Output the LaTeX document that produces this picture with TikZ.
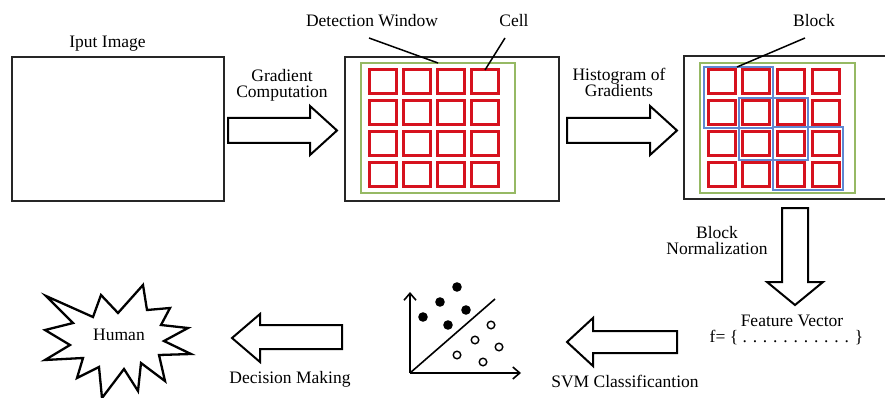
\documentclass[tikz,border=0pt]{standalone}
\usepackage{fontspec}
\setmainfont{Liberation Serif}
\usetikzlibrary{arrows.meta}
\definecolor{cellred}{RGB}{214,18,30}
\definecolor{wingreen}{RGB}{150,185,100}
\definecolor{blockblue}{RGB}{95,135,210}
\tikzset{
  lbl/.style={font=\fontsize{17.5}{16}\selectfont, inner sep=0pt, align=center},
  frame/.style={draw=black!85, line width=2pt},
  win/.style={draw=wingreen, line width=1.6pt},
  cellbox/.style={draw=cellred, line width=3pt},
  blk/.style={draw=blockblue, line width=2.5pt},
  barrow/.style={draw=black, line width=2pt, fill=white, line join=miter},
  leader/.style={draw=black, line width=1.5pt},
  axis/.style={draw=black, line width=1.6pt},
  fdot/.style={fill=black},
  odot/.style={draw=black, line width=1.4pt, fill=white},
}
\begin{document}
\begin{tikzpicture}[x=1pt,y=-1pt]
\useasboundingbox[fill=white] (0,0) rectangle (885,398);

% ---------- input image ----------
\node[frame, anchor=north west, inner sep=0pt, minimum width=212pt, minimum height=144pt] (input) at (11,56) {};
\node[lbl, anchor=base] (inputlbl) at (107.5,48) {Iput Image};

% ---------- arrow 1 ----------
\draw[barrow] (228,118) -- (310,118) -- (310,106) -- (337,130.5) -- (310,155) -- (310,143) -- (228,143) -- cycle;
\node[lbl] (gradlbl) at (282,85.5) {Gradient\\Computation};

% ---------- detection window box ----------
\node[frame, anchor=north west, inner sep=0pt, minimum width=214pt, minimum height=144pt] (detbox) at (344,56) {};
\draw[win] (361,63) rectangle (515,193);
\foreach \i in {0,1,2,3}{
  \foreach \j in {0,1,2,3}{
    \draw[cellbox] ({369+34.3*\i},{70+30.7*\j}) rectangle ++(27,24);
  }
}
\node[lbl, anchor=base] (detlbl) at (372,27) {Detection Window};
\node[lbl, anchor=base] (celllbl) at (514,27) {Cell};
\coordinate (detA) at (369,38);
\coordinate (detB) at (438,63);
\coordinate (cellA) at (505,38);
\coordinate (cellB) at (485,70);
\draw[leader] (detA) -- (detB);
\draw[leader] (cellA) -- (cellB);

% ---------- arrow 2 ----------
\draw[barrow] (567,118) -- (650,118) -- (650,106) -- (677,130.5) -- (650,155) -- (650,143) -- (567,143) -- cycle;
\node[lbl] (histlbl) at (619,82) {Histogram of\\Gradients};

% ---------- block box ----------
\draw[frame] (895,56) -- (684,56) -- (684,199) -- (895,199);
\draw[win] (700,63) rectangle (855,193);
\foreach \i in {0,1,2,3}{
  \foreach \j in {0,1,2,3}{
    \draw[cellbox] ({708+34.7*\i},{70+30.7*\j}) rectangle ++(27,24);
  }
}
\draw[blk] (704,67) rectangle (773,128);
\draw[blk] (739,98) rectangle (808,160);
\draw[blk] (773,127) rectangle (843,190);
\node[lbl, anchor=base] (blocklbl) at (814,27) {Block};
\coordinate (blkA) at (805,38);
\coordinate (blkB) at (737,67);
\draw[leader] (blkA) -- (blkB);

% ---------- down arrow ----------
\draw[barrow] (782,208) -- (808,208) -- (808,282) -- (823,282) -- (795,305) -- (767,282) -- (782,282) -- cycle;
\node[lbl] (normlbl) at (717,241) {Block\\Normalization};

% ---------- feature vector ----------
\node[lbl, anchor=base] (featlbl) at (792,326) {Feature Vector};
\node[lbl, anchor=base] (fvec) at (786.5,342) {f= \{ . . . . . . . . . . . \}};

% ---------- SVM arrow ----------
\draw[barrow] (677,331) -- (593,331) -- (593,318) -- (567,342) -- (593,366) -- (593,353) -- (677,353) -- cycle;
\node[lbl, anchor=base] (svmlbl) at (625,387) {SVM Classificantion};

% ---------- scatter plot ----------
\coordinate (orig) at (410,373);
\coordinate (ytop) at (410,292);
\coordinate (xend) at (521,373);
\coordinate (diag) at (495,299);
\draw[axis, -{Straight Barb[length=7pt,width=12pt]}] (orig) -- (ytop);
\draw[axis, -{Straight Barb[length=7pt,width=12pt]}] (orig) -- (xend);
\draw[axis] (orig) -- (diag);
\foreach \p in {(457,287),(440,302),(423,317),(466,310),(448,325)}{
  \fill[fdot] \p circle (4.8pt);
}
\foreach \p in {(491,325),(475,340),(499,347),(457,355),(483,362)}{
  \draw[odot] \p circle (3.8pt);
}

% ---------- decision arrow ----------
\draw[barrow] (342,325) -- (260,325) -- (260,314) -- (232,338) -- (260,362) -- (260,349) -- (342,349) -- cycle;
\node[lbl, anchor=base] (declbl) at (290,383) {Decision Making};

% ---------- human starburst ----------
\draw[line width=2.3pt, line join=miter] (46,296) -- (93,317) -- (101,295) -- (118,313) -- (143,285) -- (147,310) -- (170,308) -- (161,325) -- (188,328) -- (164,341) -- (191,354) -- (159,355) -- (165,381) -- (141,363) -- (138,391) -- (124,369) -- (102,398) -- (99,367) -- (77,378) -- (83,358) -- (45,360) -- (70,345) -- (45,330) -- (73,323) -- cycle;
\node[lbl, anchor=base] (human) at (119,340) {Human};
\end{tikzpicture}
\end{document}
